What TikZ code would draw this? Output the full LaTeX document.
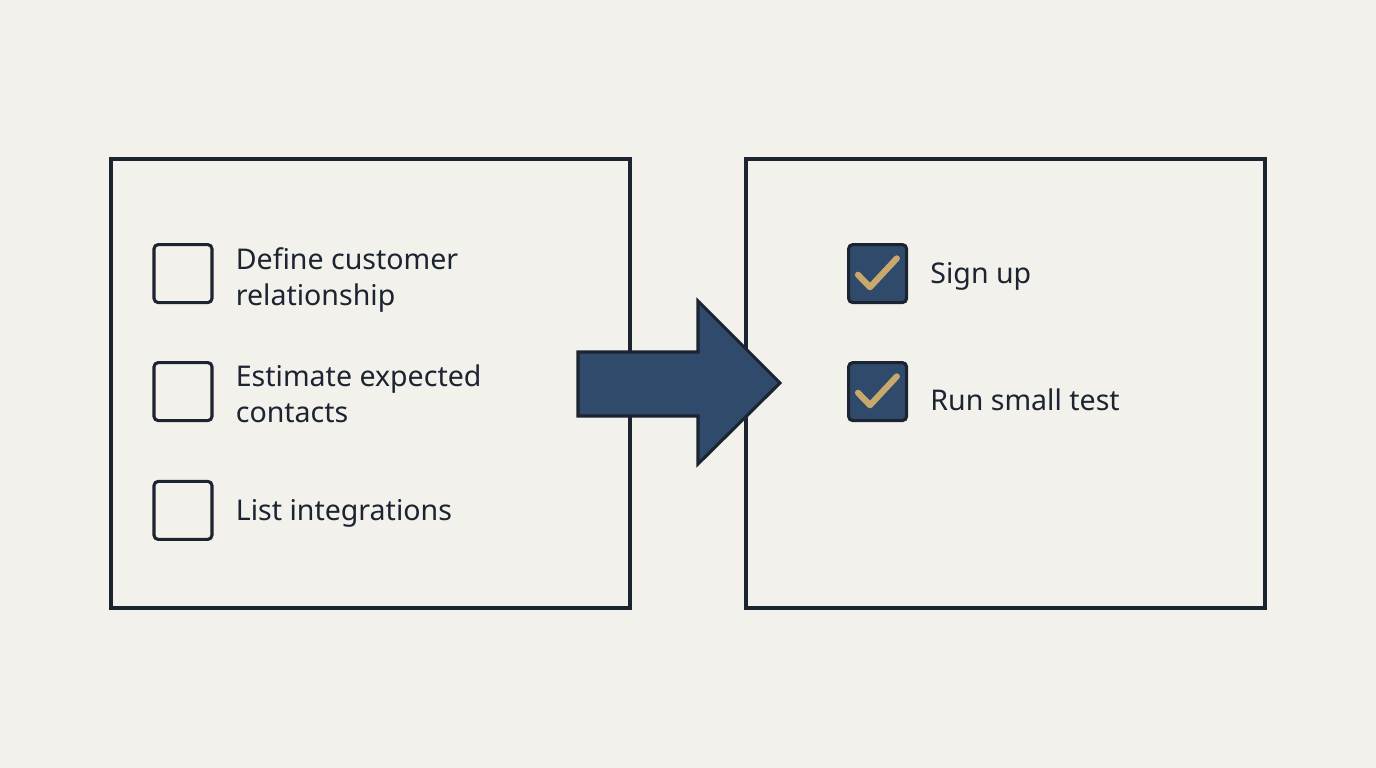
\documentclass[tikz,border=0pt]{standalone}
\usepackage{fontspec}
\setmainfont{Noto Sans}
\usetikzlibrary{positioning}
\definecolor{paper}{HTML}{F3F1EC}
\definecolor{ink}{HTML}{1B2430}
\definecolor{navy}{HTML}{2F4A6B}
\definecolor{gold}{HTML}{C8A96B}

\begin{document}
\begin{tikzpicture}[
  panel/.style={draw=ink, line width=2.2pt, fill=paper, minimum width=12.975cm, minimum height=11.225cm, inner sep=0pt},
  tick/.style={draw=ink, line width=2.2pt, rounded corners=3pt, minimum size=1.45cm, inner sep=0pt},
  done/.style={tick, fill=navy},
  item/.style={align=left, anchor=west, text=ink, inner sep=0pt, font=\fontsize{20.3}{25.5}\selectfont},
  checkmark/.style={draw=gold, line width=4.4pt, line cap=round, line join=round}]
\fill[paper] (0,0) rectangle (34.4,19.2);
\useasboundingbox (0,0) rectangle (34.4,19.2);
\node[panel] (leftpanel) at (9.2625,9.6125) {};
\node[panel] (rightpanel) at (25.1375,9.6125) {};
% open items
\node[tick] (todo1) at (4.575,12.36) {};
\node[tick] (todo2) at (4.575,9.41) {};
\node[tick] (todo3) at (4.575,6.44) {};
\node[item, right=5.5mm of todo1, yshift=-1.6mm] {Define customer\\relationship};
\node[item, right=5.5mm of todo2, yshift=-0.5mm] {Estimate expected\\contacts};
\node[item, right=5.5mm of todo3, yshift=-0.7mm] {List integrations};
% finished items
\node[done] (done1) at (21.94,12.36) {};
\node[done] (done2) at (21.94,9.41) {};
\node[item, right=5.5mm of done1, yshift=-0.7mm] (signup) {Sign up};
\node[item, right=5.5mm of done2, yshift=-2mm] (smalltest) {Run small test};
\foreach \d in {done1,done2}
  \draw[checkmark] ([shift={(-0.49,-0.03)}]\d.center) -- ([shift={(-0.19,-0.34)}]\d.center) -- ([shift={(0.48,0.38)}]\d.center);
% big arrow between the panels
\draw[draw=ink, line width=2.2pt, fill=navy, line join=miter]
  (14.45,10.4) -- (17.45,10.4) -- (17.45,11.675) -- (19.5,9.625)
  -- (17.45,7.6) -- (17.45,8.8) -- (14.45,8.8) -- cycle;
\end{tikzpicture}
\end{document}
